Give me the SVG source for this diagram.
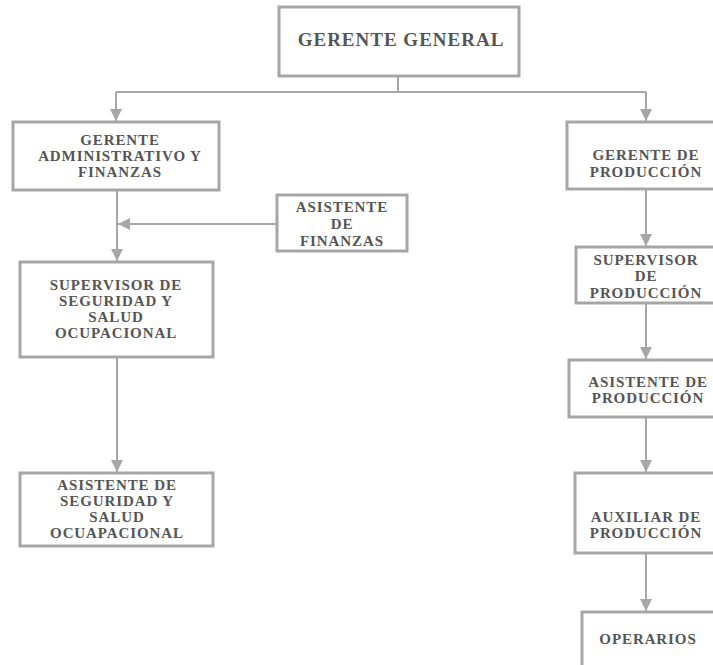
<svg xmlns="http://www.w3.org/2000/svg" width="713" height="665" viewBox="0 0 713 665">
<defs>
<marker id="ah" markerUnits="userSpaceOnUse" markerWidth="14" markerHeight="14" viewBox="0 0 14 14" refX="12" refY="7" orient="auto">
<path d="M0,1 L12,7 L0,13 Z" fill="#a6a6a6"/>
</marker>
<style>
.box{fill:#ffffff;stroke:#a6a6a6;stroke-width:3}
.t{font-family:"Liberation Serif","Times New Roman",serif;font-weight:bold;font-size:15px;fill:#555555;text-anchor:middle;letter-spacing:0.9px}
.big{font-size:19px;letter-spacing:1px}
.c{fill:none;stroke:#a6a6a6;stroke-width:2}
</style>
</defs>
<rect width="713" height="665" fill="#ffffff"/>
<g id="connectors">
<path class="c" d="M398,76 V92 M116,92 H646"/>
<path class="c" d="M116,92 V121" marker-end="url(#ah)"/>
<path class="c" d="M646,92 V121" marker-end="url(#ah)"/>
<path class="c" d="M117,190 V261" marker-end="url(#ah)"/>
<path class="c" d="M277,224 H118" marker-end="url(#ah)"/>
<path class="c" d="M117,357 V472" marker-end="url(#ah)"/>
<path class="c" d="M646,189 V246" marker-end="url(#ah)"/>
<path class="c" d="M646,303 V359" marker-end="url(#ah)"/>
<path class="c" d="M646,417 V472" marker-end="url(#ah)"/>
<path class="c" d="M646,553 V611" marker-end="url(#ah)"/>
</g>
<g id="gerente-general">
<rect class="box" x="279" y="7" width="240" height="69"/>
<text class="t big" x="401" y="46">GERENTE GENERAL</text>
</g>
<g id="gerente-administrativo">
<rect class="box" x="13" y="122" width="206" height="68"/>
<text class="t" x="120" y="145">GERENTE</text>
<text class="t" x="120" y="161">ADMINISTRATIVO Y</text>
<text class="t" x="120" y="177">FINANZAS</text>
</g>
<g id="asistente-finanzas">
<rect class="box" x="277" y="195" width="130" height="56"/>
<text class="t" x="342" y="212">ASISTENTE</text>
<text class="t" x="342" y="229">DE</text>
<text class="t" x="342" y="246">FINANZAS</text>
</g>
<g id="supervisor-seguridad">
<rect class="box" x="20" y="262" width="193" height="95"/>
<text class="t" x="116" y="290">SUPERVISOR DE</text>
<text class="t" x="116" y="306">SEGURIDAD Y</text>
<text class="t" x="116" y="322">SALUD</text>
<text class="t" x="116" y="338">OCUPACIONAL</text>
</g>
<g id="asistente-seguridad">
<rect class="box" x="20" y="473" width="193" height="73"/>
<text class="t" x="117" y="490">ASISTENTE DE</text>
<text class="t" x="117" y="506">SEGURIDAD Y</text>
<text class="t" x="117" y="522">SALUD</text>
<text class="t" x="117" y="538">OCUAPACIONAL</text>
</g>
<g id="gerente-produccion">
<rect class="box" x="567" y="122" width="170" height="67"/>
<text class="t" x="646" y="160">GERENTE DE</text>
<text class="t" x="646" y="177">PRODUCCIÓN</text>
</g>
<g id="supervisor-produccion">
<rect class="box" x="576" y="247" width="170" height="56"/>
<text class="t" x="646" y="265">SUPERVISOR</text>
<text class="t" x="646" y="281">DE</text>
<text class="t" x="646" y="298">PRODUCCIÓN</text>
</g>
<g id="asistente-produccion">
<rect class="box" x="569" y="360" width="170" height="57"/>
<text class="t" x="648" y="387">ASISTENTE DE</text>
<text class="t" x="648" y="403">PRODUCCIÓN</text>
</g>
<g id="auxiliar-produccion">
<rect class="box" x="575" y="473" width="170" height="80"/>
<text class="t" x="646" y="522">AUXILIAR DE</text>
<text class="t" x="646" y="538">PRODUCCIÓN</text>
</g>
<g id="operarios">
<rect class="box" x="582" y="612" width="170" height="80"/>
<text class="t" x="648" y="644">OPERARIOS</text>
</g>
</svg>
